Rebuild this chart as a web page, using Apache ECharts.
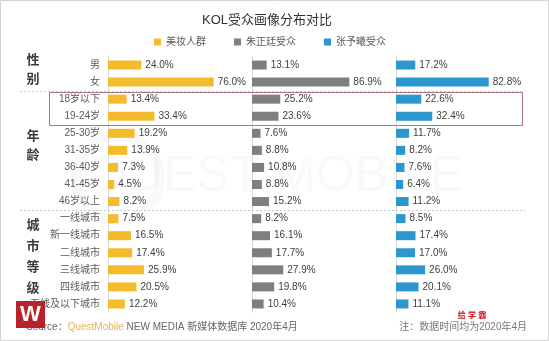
<!DOCTYPE html>
<html>
<head>
<meta charset="utf-8">
<script src="https://cdn.jsdelivr.net/npm/echarts@6/dist/echarts.min.js"></script>
<style>
  html, body { margin: 0; padding: 0; background: #fff; }
  #chart { width: 549px; height: 341px; }
</style>
</head>
<body>
<div id="chart"></div>
<script>
// Row labels (top to bottom)
const categories = ['男', '女', '18岁以下', '19-24岁', '25-30岁', '31-35岁', '36-40岁', '41-45岁', '46岁以上',
  '一线城市', '新一线城市', '二线城市', '三线城市', '四线城市', '五线及以下城市'];

// Share of each audience, %
const beautyUsers = [24.0, 76.0, 13.4, 33.4, 19.2, 13.9, 7.3, 4.5, 8.2, 7.5, 16.5, 17.4, 25.9, 20.5, 12.2];
const zhuZhengtingFans = [13.1, 86.9, 25.2, 23.6, 7.6, 8.8, 10.8, 8.8, 15.2, 8.2, 16.1, 17.7, 27.9, 19.8, 10.4];
const zhangYuxiFans = [17.2, 82.8, 22.6, 32.4, 11.7, 8.2, 7.6, 6.4, 11.2, 8.5, 17.4, 17.0, 26.0, 20.1, 11.1];

const seriesNames = ['美妆人群', '朱正廷受众', '张予曦受众'];
const seriesColors = ['#F4BC2C', '#7F7F7F', '#2B97CE'];

// Row groups: label and first/last row index
const groups = [
  { name: '性别', from: 0, to: 1 },
  { name: '年龄', from: 2, to: 8 },
  { name: '城市等级', from: 9, to: 14 }
];

const FONT = '"Liberation Sans", Arial, "Noto Sans CJK SC", sans-serif';
const chart = echarts.init(document.getElementById('chart'));

const panelLefts = [108, 252, 396];
const panelWidths = [139, 112, 112];
const gridTop = 56.5, gridHeight = 256;

const grids = panelLefts.map((l, i) => ({ left: l, top: gridTop, width: panelWidths[i], height: gridHeight }));
const xAxes = grids.map((g, i) => ({
  gridIndex: i, type: 'value', min: 0, max: 100, show: false
}));
const yAxes = grids.map((g, i) => ({
  gridIndex: i, type: 'category', data: categories, inverse: true,
  axisLine: { show: true, lineStyle: { color: '#DCDCDC', width: 1 } },
  axisTick: { show: false },
  axisLabel: {
    show: i === 0, color: '#595959', fontSize: 10, fontFamily: FONT, margin: 8
  }
}));

const dataSets = [beautyUsers, zhuZhengtingFans, zhangYuxiFans];
const series = dataSets.map((d, i) => ({
  name: seriesNames[i], type: 'bar', xAxisIndex: i, yAxisIndex: i,
  data: d, barWidth: 9, itemStyle: { color: seriesColors[i] },
  label: {
    show: true, position: 'right', distance: 4, color: '#404040', fontSize: 10, fontFamily: FONT,
    formatter: p => p.value.toFixed(1) + '%'
  },
  silent: true, animation: false
}));

chart.setOption({
  animation: false,
  backgroundColor: '#fff',
  title: {
    text: 'KOL受众画像分布对比', left: 262, textAlign: 'center', top: 9,
    textStyle: { fontSize: 13, fontWeight: 'normal', color: '#333', fontFamily: FONT }
  },
  legend: {
    data: seriesNames, left: 149, top: 32, itemWidth: 7, itemHeight: 7, itemGap: 28,
    icon: 'rect', textStyle: { fontSize: 10, color: '#595959', fontFamily: FONT }
  },
  grid: grids, xAxis: xAxes, yAxis: yAxes, series
});

// Decorations placed from the axes' own coordinates
const rowY = i => chart.convertToPixel({ gridIndex: 0 }, [0, i])[1];
const between = (a, b) => (rowY(a) + rowY(b)) / 2;

const g = [];
// frame
g.push({ type: 'rect', shape: { x: 0.5, y: 0.5, width: 548, height: 340 }, style: { fill: 'none', stroke: '#D4D4D4', lineWidth: 1 }, z: 1 });
// faint watermark
g.push({ type: 'circle', shape: { cx: 118, cy: 178, r: 42 }, style: { fill: 'none', stroke: 'rgba(0,0,0,0.025)', lineWidth: 10 }, z: 0 });
g.push({ type: 'text', left: 88, top: 152, style: { text: 'QUEST MOBILE', fontSize: 50, fontFamily: FONT, fill: 'rgba(0,0,0,0.025)' }, z: 0 });
// dashed separators between groups
[[1, 2], [8, 9]].forEach(([a, b]) => {
  const y = Math.round(between(a, b)) + 0.5;
  g.push({ type: 'line', shape: { x1: 20, y1: y, x2: 525, y2: y }, style: { stroke: '#C8C8C8', lineDash: [2, 2], lineWidth: 1 }, z: 5 });
});
// highlight box around youngest age rows
{
  const y1 = Math.round(between(1, 2)) + 1.5;
  const y2 = Math.round(between(3, 4)) + 0.5;
  g.push({ type: 'rect', shape: { x: 49.5, y: y1, width: 473, height: y2 - y1 }, style: { fill: 'none', stroke: '#B07485', lineWidth: 1 }, z: 6 });
}
// group labels, stacked vertically
groups.forEach(gr => {
  const cy = (rowY(gr.from) + rowY(gr.to)) / 2 - 4;
  const chars = gr.name.split('');
  const step = chars.length > 2 ? 21 : 19;
  chars.forEach((c, k) => {
    g.push({
      type: 'text', x: 33, y: cy + (k - (chars.length - 1) / 2) * step,
      style: { text: c, fontSize: 13, fontWeight: 'bold', fontFamily: FONT, fill: '#3A3A3A', align: 'center', verticalAlign: 'middle' }, z: 10
    });
  });
});
// footer
g.push({
  type: 'text', x: 26, y: 327,
  style: {
    text: '{a|Source：}{b|QuestMobile}{a| NEW MEDIA 新媒体数据库 2020年4月}',
    verticalAlign: 'middle',
    rich: {
      a: { fontSize: 10, fill: '#666', fontFamily: FONT },
      b: { fontSize: 10, fill: '#E3B457', fontFamily: FONT }
    }
  }, z: 10
});
g.push({
  type: 'text', x: 527, y: 327,
  style: { text: '注：数据时间均为2020年4月', fontSize: 10, fill: '#777', fontFamily: FONT, align: 'right', verticalAlign: 'middle' }, z: 10
});
g.push({
  type: 'text', x: 472, y: 316,
  style: { text: '给 学 霸', fontSize: 8, fontWeight: 'bold', fill: '#C8141E', fontFamily: FONT, align: 'center', verticalAlign: 'middle' }, z: 10
});
// badge bottom-left
g.push({ type: 'rect', shape: { x: 16, y: 301, width: 29, height: 27 }, style: { fill: '#B8222B' }, z: 20 });
g.push({ type: 'text', x: 30.5, y: 315, style: { text: 'W', fontSize: 22, fontWeight: 'bold', fill: '#fff', fontFamily: FONT, align: 'center', verticalAlign: 'middle' }, z: 21 });

chart.setOption({ graphic: g });
</script>
</body>
</html>
